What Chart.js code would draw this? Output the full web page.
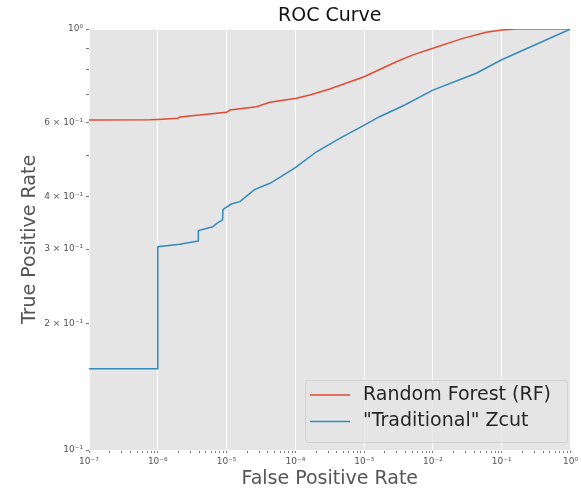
<!DOCTYPE html>
<html>
<head>
<meta charset="utf-8">
<script src="https://cdn.jsdelivr.net/npm/chart.js@4.4.1/dist/chart.umd.min.js"></script>
<style>
  html, body { margin: 0; padding: 0; background: #fff; }
</style>
</head>
<body>
<canvas id="rocChart" width="581" height="489"></canvas>
<script>
// ROC curve points (FPR, TPR)
const rfFpr = [1e-7, 7.7e-7, 1e-6, 1.96e-6, 2.1e-6, 1e-5, 1.12e-5, 2.72e-5, 4.26e-5, 1.04e-4, 1.62e-4, 3.16e-4, 1e-3, 2.94e-3, 5.13e-3, 1e-2, 2.73e-2, 5.96e-2, 1e-1, 1.62e-1, 1];
const rfTpr = [0.608, 0.609, 0.610, 0.614, 0.618, 0.634, 0.642, 0.654, 0.670, 0.685, 0.697, 0.720, 0.770, 0.836, 0.868, 0.900, 0.950, 0.982, 0.995, 1.0, 1.0];

const zcFpr = [1e-7, 1e-6, 1e-6, 2.1e-6, 3.86e-6, 3.89e-6, 6.3e-6, 7.15e-6, 8.75e-6, 8.9e-6, 1.17e-5, 1.56e-5, 2.58e-5, 4.27e-5, 5.94e-5, 1.01e-4, 2.03e-4, 4.42e-4, 1.02e-3, 1.68e-3, 3.89e-3, 1e-2, 4.27e-2, 1e-1, 1];
const zcTpr = [0.156, 0.156, 0.304, 0.308, 0.3135, 0.332, 0.339, 0.345, 0.352, 0.373, 0.384, 0.389, 0.416, 0.430, 0.444, 0.469, 0.511, 0.550, 0.592, 0.619, 0.660, 0.716, 0.785, 0.845, 1.0];

const seriesNames = ["Random Forest (RF)", "\"Traditional\" Zcut"];
const seriesColors = ["#E24A33", "#348ABD"];

const xTickValues = [1e-7, 1e-6, 1e-5, 1e-4, 1e-3, 1e-2, 1e-1, 1];
const xTickLabels = ["10⁻⁷", "10⁻⁶", "10⁻⁵", "10⁻⁴", "10⁻³", "10⁻²", "10⁻¹", "10⁰"];
const yTickValues = [0.1, 0.2, 0.3, 0.4, 0.5, 0.6, 0.7, 0.8, 0.9, 1];
const yTickLabels = ["10⁻¹", "2 × 10⁻¹", "3 × 10⁻¹", "4 × 10⁻¹", "", "6 × 10⁻¹", "", "", "", "10⁰"];

// minor x ticks 2..9 in each decade
const xMinor = [];
for (let d = -7; d < 0; d++) {
  for (let m = 2; m <= 9; m++) xMinor.push(m * Math.pow(10, d));
}

function sameLog(a, b) {
  return Math.abs(Math.log10(a) - Math.log10(b)) < 1e-6;
}
function isDecade(v) {
  return Math.abs(Math.log10(v) - Math.round(Math.log10(v))) < 1e-6;
}

const toPoints = (xs, ys) => xs.map((x, i) => ({ x: x, y: ys[i] }));

Chart.defaults.font.family = '"DejaVu Sans", sans-serif';

const decor = {
  id: "decor",
  beforeDraw(chart) {
    const { ctx, chartArea: a } = chart;
    ctx.save();
    ctx.fillStyle = "#ffffff";
    ctx.fillRect(0, 0, chart.width, chart.height);
    ctx.fillStyle = "#E5E5E5";
    ctx.fillRect(a.left, a.top, a.right - a.left, a.bottom - a.top);
    ctx.restore();
  },
  afterDraw(chart) {
    const { ctx, chartArea: a } = chart;
    ctx.save();
    // title
    ctx.font = '19px "DejaVu Sans"';
    ctx.fillStyle = "#111";
    ctx.textAlign = "center";
    ctx.textBaseline = "middle";
    ctx.fillText("ROC Curve", (a.left + a.right) / 2, 16.5);

    // legend (lower right, inside plot)
    const bx = 305, by = 380, bw = 262, bh = 62;
    ctx.fillStyle = "rgba(229,229,229,0.8)";
    ctx.strokeStyle = "#d2d2d2";
    ctx.lineWidth = 1;
    ctx.beginPath();
    ctx.roundRect(bx + 0.5, by + 0.5, bw, bh, 3);
    ctx.fill();
    ctx.stroke();
    ctx.textAlign = "left";
    ctx.font = '19px "DejaVu Sans"';
    chart.data.datasets.forEach((ds, i) => {
      const ly = 395 + i * 26.5;
      ctx.strokeStyle = ds.borderColor;
      ctx.lineWidth = 1.5;
      ctx.beginPath();
      ctx.moveTo(310, ly);
      ctx.lineTo(350, ly);
      ctx.stroke();
      ctx.fillStyle = "#262626";
      ctx.fillText(ds.label, 363, ly);
    });
    ctx.restore();
  }
};

new Chart(document.getElementById("rocChart"), {
  type: "line",
  data: {
    datasets: [
      {
        label: seriesNames[0],
        data: toPoints(rfFpr, rfTpr),
        borderColor: seriesColors[0],
        borderWidth: 1.5,
        pointRadius: 0,
        tension: 0,
      },
      {
        label: seriesNames[1],
        data: toPoints(zcFpr, zcTpr),
        borderColor: seriesColors[1],
        borderWidth: 1.5,
        pointRadius: 0,
        tension: 0,
      },
    ],
  },
  options: {
    responsive: false,
    animation: false,
    devicePixelRatio: 1,
    layout: { padding: { left: 0, right: 10, top: 29, bottom: 0 } },
    plugins: {
      legend: { display: false },
      title: { display: false },
      tooltip: { enabled: false },
    },
    scales: {
      x: {
        type: "logarithmic",
        min: 1e-7,
        max: 1,
        border: { display: false },
        afterBuildTicks(scale) {
          scale.ticks = xTickValues.concat(xMinor).sort((a, b) => a - b).map((v) => ({ value: v }));
        },
        afterFit(scale) {
          scale.height = 39;
        },
        grid: {
          color: (c) => (c.tick && isDecade(c.tick.value) ? "#ffffff" : "rgba(0,0,0,0)"),
          tickColor: "#777",
          tickLength: 3,
          lineWidth: 1,
        },
        ticks: {
          autoSkip: false,
          maxRotation: 0,
          padding: 3,
          color: "#555",
          font: { size: 9 },
          callback: (value) => {
            const i = xTickValues.findIndex((v) => sameLog(v, value));
            return i >= 0 ? xTickLabels[i] : "";
          },
        },
        title: {
          display: true,
          text: "False Positive Rate",
          color: "#555",
          font: { size: 19, lineHeight: 1 },
          padding: { top: 0, bottom: 0 },
        },
      },
      y: {
        type: "logarithmic",
        min: 0.1,
        max: 1,
        border: { display: false },
        afterBuildTicks(scale) {
          scale.ticks = yTickValues.map((v) => ({ value: v }));
        },
        afterFit(scale) {
          scale.width = 89;
        },
        grid: {
          color: (c) => (c.tick && isDecade(c.tick.value) ? "#ffffff" : "rgba(0,0,0,0)"),
          tickColor: "#777",
          tickLength: 3,
          lineWidth: 1,
        },
        ticks: {
          autoSkip: false,
          padding: 3,
          color: "#555",
          font: { size: 9 },
          callback: (value) => {
            const i = yTickValues.findIndex((v) => sameLog(v, value));
            return i >= 0 ? yTickLabels[i] : "";
          },
        },
        title: {
          display: true,
          text: "True Positive Rate",
          color: "#555",
          font: { size: 19, lineHeight: 1 },
          padding: { top: 21, bottom: 0 },
        },
      },
    },
  },
  plugins: [decor],
});
</script>
</body>
</html>
